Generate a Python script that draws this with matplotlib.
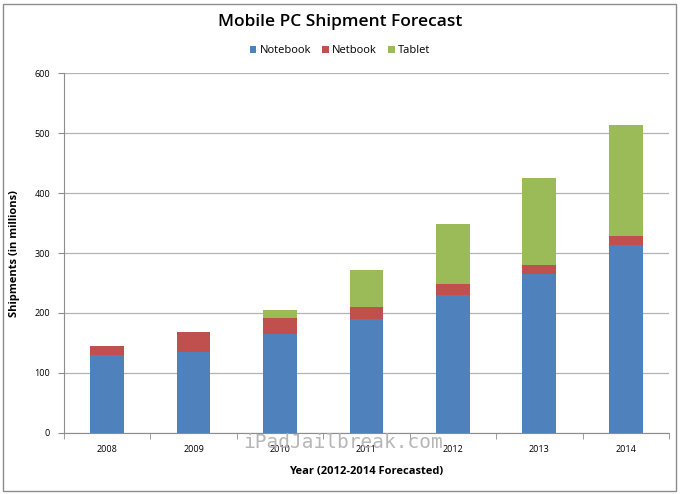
import numpy as np
import matplotlib.pyplot as plt
from matplotlib.patches import Rectangle

# --- Data ---
years = ['2008', '2009', '2010', '2011', '2012', '2013', '2014']
notebook = [130, 135, 165, 190, 230, 265, 313]
netbook = [15, 33, 26, 20, 18, 15, 15]
tablet = [0, 0, 14, 62, 100, 145, 185]
y_ticks = [0, 100, 200, 300, 400, 500, 600]

plt.rcParams['font.family'] = ['Open Sans', 'DejaVu Sans']

fig = plt.figure(figsize=(6.8, 4.94), dpi=100)
ax = fig.add_axes([0.0941, 0.1235, 0.8897, 0.7287])

# outer chart border
fig.patches.append(Rectangle((0.004, 0.006), 0.99, 0.986, transform=fig.transFigure,
                             fill=False, edgecolor='#8c8c8c', linewidth=1))

x = np.arange(len(years))
w = 0.39
nb = np.array(notebook)
ne = np.array(netbook)
ta = np.array(tablet)

ax.bar(x, nb, w, color='#4F81BD', label='Notebook', zorder=3)
ax.bar(x, ne, w, bottom=nb, color='#C0504D', label='Netbook', zorder=3)
ax.bar(x, ta, w, bottom=nb + ne, color='#9BBB59', label='Tablet', zorder=3)

ax.set_xlim(-0.5, len(years) - 0.5)
ax.set_ylim(0, 600)
ax.set_yticks(y_ticks)
ax.set_yticklabels([str(v) for v in y_ticks], fontsize=6.5)
ax.set_xticks(x)
ax.set_xticklabels(years, fontsize=6.5)
ax.set_xticks(np.arange(len(years) + 1) - 0.5, minor=True)
ax.tick_params(axis='x', which='major', length=0, pad=9)
ax.tick_params(axis='x', which='minor', length=4, color='#8c8c8c')
ax.tick_params(axis='y', length=4, color='#8c8c8c', pad=6)

ax.grid(axis='y', color='#b3b3b3', linewidth=0.9, zorder=0)
for s in ['top', 'right']:
    ax.spines[s].set_visible(False)
for s in ['left', 'bottom']:
    ax.spines[s].set_color('#8c8c8c')

ax.set_ylabel('Shipments (in millions)', fontsize=8, fontweight='bold', labelpad=10)
ax.set_xlabel('Year (2012-2014 Forecasted)', fontsize=8, fontweight='bold', labelpad=8)

fig.text(0.5, 0.955, 'Mobile PC Shipment Forecast', ha='center', va='center',
         fontsize=12.5, fontweight='semibold')
fig.legend(loc='center', bbox_to_anchor=(0.5, 0.897), ncol=3, frameon=False,
           fontsize=8, handlelength=0.6, handleheight=0.6, handletextpad=0.3,
           columnspacing=1.0)

# watermark
fig.text(0.505, 0.105, 'iPadJailbreak.com', ha='center', va='center', fontsize=14,
         family='DejaVu Sans Mono', color='#b0b0b0', alpha=0.9, zorder=10)

fig.savefig('out.png', dpi=100)
